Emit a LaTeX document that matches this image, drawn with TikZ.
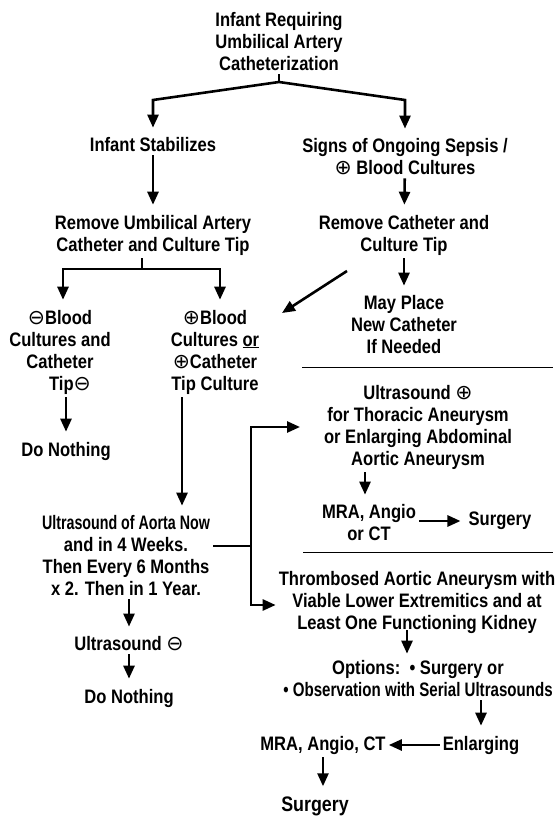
\documentclass[tikz,border=0pt]{standalone}
\usepackage{fontspec}
\setmainfont{Liberation Sans Bold}[FakeStretch=0.85]
\newfontfamily\sym{DejaVu Sans}[Scale=1.05]
\usetikzlibrary{arrows.meta}
\begin{document}
\begin{tikzpicture}[x=1pt,y=-1pt,
  lbl/.style={align=center, inner sep=3pt, font=\fontsize{19.5}{22}\selectfont},
  ln/.style={line width=2.6pt},
  varr/.style={ln, -{Triangle[width=11pt,length=13pt]}, shorten >=7pt},
  harr/.style={ln, -{Triangle[width=11pt,length=13pt]}},
  rule/.style={line width=0.9pt}]
\useasboundingbox (0,0) rectangle (557,818);
% nodes
\node[lbl] (title) at (279,42) {Infant Requiring\\Umbilical Artery\\Catheterization};
\node[lbl] (stab) at (153,145) {Infant Stabilizes};
\node[lbl] (sepsis) at (405,157) {Signs of Ongoing Sepsis /\\{\sym ⊕} Blood Cultures};
\node[lbl] (remU) at (153,235) {Remove Umbilical Artery\\Catheter and Culture Tip};
\node[lbl] (remC) at (404,235) {Remove Catheter and\\Culture Tip};
\node[lbl] (negB) at (60,352) {{\sym ⊖}Blood\\Cultures and\\Catheter\\\hspace*{20pt}Tip{\sym ⊖}};
\node[lbl] (posB) at (215,352) {{\sym ⊕}Blood\\Cultures \underline{or}\\{\sym ⊕}Catheter\\Tip Culture};
\node[lbl] (may) at (404,325) {May Place\\New Catheter\\If Needed};
\node[lbl] (usPos) at (418,427) {Ultrasound {\sym ⊕}\\for Thoracic Aneurysm\\or Enlarging Abdominal\\Aortic Aneurysm};
\node[lbl] (mra1) at (369,523) {MRA, Angio\\or CT};
\node[lbl] (surg1) at (500,521) {Surgery};
\node[lbl] (dn1) at (66,451) {Do Nothing};
\node[lbl] (usAorta) at (126,556) {\scalebox{0.86}[1]{Ultrasound of Aorta Now}\\and in 4 Weeks.\\Then Every 6 Months\\x 2. Then in 1 Year.};
\node[lbl] (usNeg) at (129,644) {Ultrasound {\sym ⊖}};
\node[lbl] (dn2) at (129,698) {Do Nothing};
\node[lbl] (thromb) at (417,602) {Thrombosed Aortic Aneurysm with\\Viable Lower Extremitics and at\\Least One Functioning Kidney};
\node[lbl] (opt) at (418,679) {Options:\ \ • Surgery or\\\scalebox{0.91}[1]{• Observation with Serial Ultrasounds}};
\node[lbl] (enl) at (481,745) {Enlarging};
\node[lbl] (mra2) at (323,745) {MRA, Angio, CT};
\node[lbl, font=\fontsize{21}{24}\selectfont] (surg2) at (315,806) {Surgery};
% coordinates
\coordinate (apex) at (279,82);
\coordinate (fl) at (153,100);
\coordinate (fr) at (405,100);
\coordinate (f2) at (142,269);
\coordinate (fl2) at (63,269);
\coordinate (fr2) at (220,269);
\coordinate (d1) at (347,271);
\coordinate (d2) at (282,313);
\coordinate (a1) at (182,0);
\coordinate (br) at (251,546);
\coordinate (bt) at (251,427);
\coordinate (bb) at (251,605);
\coordinate (ut) at (300,427);
\coordinate (a2) at (365,0);
\coordinate (a3) at (407,0);
% connectors
\draw[ln] (title.south) -- (apex);
\draw[varr] (apex) -- (fl) -- (stab.north);
\draw[varr] (apex) -- (fr) -- (sepsis.north);
\draw[varr] (stab) -- (remU);
\draw[varr] (sepsis) -- (remC);
\draw[ln] (remU.south -| f2) -- (f2);
\draw[varr] (f2) -- (fl2) -- (fl2 |- negB.north);
\draw[varr] (f2) -- (fr2) -- (fr2 |- posB.north);
\draw[varr] (remC) -- (may);
\draw[harr] (d1) -- (d2);
\draw[varr] (negB.south -| dn1.north) -- (dn1.north);
\draw[varr] (posB.south -| a1) -- (usAorta.north -| a1);
\draw[varr] (usAorta.south -| usNeg.north) -- (usNeg.north);
\draw[varr] (usNeg) -- (dn2);
\draw[ln] (usAorta.east |- br) -- (br);
\draw[harr] (br) -- (bt) -- (ut);
\draw[harr] (br) -- (bb) -- (thromb.west |- bb);
\draw[varr] (usPos.south -| a2) -- (mra1.north -| a2);
\draw[harr, shorten >=5pt] (mra1.east |- surg1) -- (surg1.west);
\draw[varr, shorten <=-6pt, shorten >=4pt] (thromb.south -| a3) -- (opt.north -| a3);
\draw[varr] (opt.south -| enl.north) -- (enl.north);
\draw[harr] (enl) -- (mra2);
\draw[varr] (mra2.south) -- (mra2.south |- surg2.north);
% rules
\draw[rule] (302,367) -- (553,367);
\draw[rule] (303,552) -- (553,552);
\end{tikzpicture}
\end{document}
